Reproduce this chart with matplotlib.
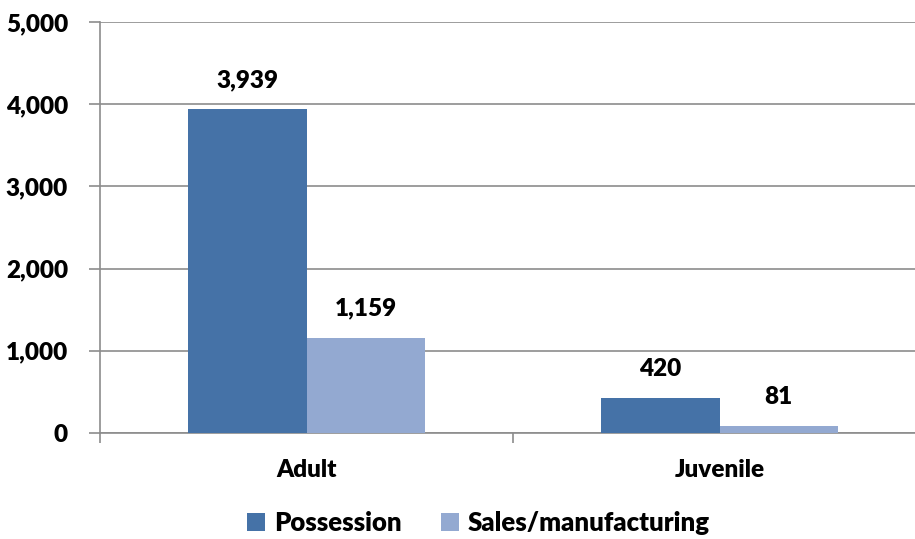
import numpy as np
import matplotlib.pyplot as plt
from matplotlib.ticker import FuncFormatter

plt.rcParams['font.family'] = ['Lato', 'DejaVu Sans']
plt.rcParams['font.weight'] = 'heavy'

categories = ["Adult", "Juvenile"]
possession = [3939, 420]
sales_manufacturing = [1159, 81]
series_names = ["Possession", "Sales/manufacturing"]
colors = ["#4572A7", "#93A9D1"]

fs = 17.5

fig = plt.figure(figsize=(9.15, 5.39), dpi=100)
ax = fig.add_axes([100 / 915, 1 - 433 / 539, 826 / 915, 411 / 539])

x = np.arange(len(categories))
w = 0.286
b1 = ax.bar(x - w / 2, possession, w, color=colors[0], label=series_names[0], zorder=3)
b2 = ax.bar(x + w / 2, sales_manufacturing, w, color=colors[1], label=series_names[1], zorder=3)

for bars in (b1, b2):
    for rect in bars:
        h = rect.get_height()
        ax.annotate(f"{h:,.0f}", (rect.get_x() + rect.get_width() / 2, h),
                    xytext=(0, 21), textcoords="offset points",
                    ha="center", va="center", fontsize=fs)

ax.set_xlim(-0.5, 1.5)
ax.set_ylim(0, 5000)
ax.set_yticks(range(0, 5001, 1000))
ax.yaxis.set_major_formatter(FuncFormatter(lambda v, p: f"{v:,.0f}"))
ax.set_xticks(x)
ax.set_xticklabels(categories)
ax.set_xticks([-0.5, 0.5, 1.5], minor=True)
ax.tick_params(axis="x", which="major", length=0, pad=19, labelsize=fs)
ax.tick_params(axis="x", which="minor", length=7, color="#8c8c8c", width=1.2)
ax.tick_params(axis="y", length=8, color="#8c8c8c", width=1.2, pad=15, labelsize=fs)

ax.grid(axis="y", color="#8c8c8c", linewidth=1.2, zorder=0)
for s in ("top", "right"):
    ax.spines[s].set_visible(False)
for s in ("left", "bottom"):
    ax.spines[s].set_color("#8c8c8c")
    ax.spines[s].set_linewidth(1.2)

fig.legend(loc="lower center", bbox_to_anchor=(0.523, -0.035), ncol=2, frameon=False,
           prop={"size": 18.5, "weight": "heavy"}, handlelength=0.7, handleheight=0.7,
           handletextpad=0.35, columnspacing=1.5)

fig.savefig("out.png", dpi=100)
